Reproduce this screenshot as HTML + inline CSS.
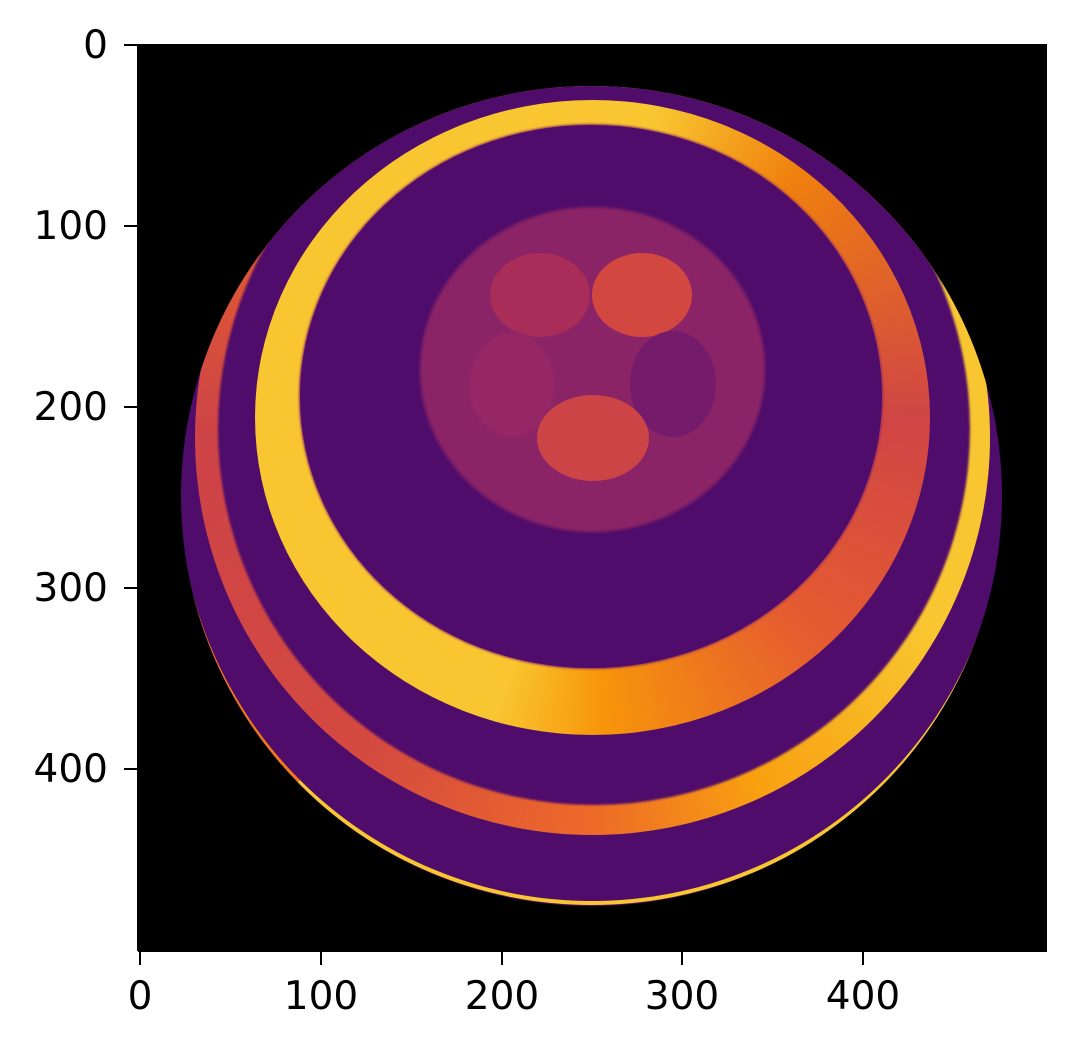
<!DOCTYPE html>
<html><head><meta charset="utf-8"><style>
body{margin:0;background:#fff;width:1074px;height:1049px;position:relative;overflow:hidden;font-family:"DejaVu Sans","Liberation Sans",sans-serif}
.ab{position:absolute}
.el{position:absolute;border-radius:50%}
.tl{position:absolute;font-size:39px;line-height:39px;color:#000;white-space:nowrap}
</style></head><body>
<div class="ab" style="left:138px;top:44px;width:909px;height:907px;background:#000;overflow:hidden">
  <div class="el" style="left:43px;top:42px;width:821px;height:820px;background:#4f0c6b;overflow:hidden">
    <div class="el" style="left:-6px;top:-15px;width:834px;height:834px;box-sizing:border-box;border:4px solid #f8c630;border-top-color:#f07818;border-left-color:#f07818"></div>
    <div class="el" style="left:14px;top:-46px;width:795px;height:795px;background:conic-gradient(#f6b020 0deg,#f8c630 30deg,#f8c630 120deg,#f8a010 155deg,#ee6a28 180deg,#d44a40 215deg,#cd4347 270deg,#e05a30 300deg,#f07818 330deg,#f6b020 360deg)"></div>
    <div class="el" style="left:37px;top:-33px;width:752px;height:752px;background:#4f0c6b;filter:blur(1px)"></div>
  </div>
  <div class="el" style="left:117px;top:56px;width:675px;height:635px;background:conic-gradient(#f8c630 0deg,#f8c630 12deg,#f0800e 40deg,#d04545 90deg,#e55c30 135deg,#f7950a 178deg,#f8c630 198deg,#f8c630 360deg)"></div>
  <div class="el" style="left:162px;top:81px;width:582px;height:543px;background:#4f0c6b;box-shadow:0 0 2px 1px #8a2a60"></div>
  <div class="el" style="left:282px;top:163px;width:345px;height:325px;background:#8b2466;filter:blur(1.5px)"></div>
  <div class="el" style="left:352px;top:209px;width:100px;height:84px;background:#a82d58"></div>
  <div class="el" style="left:454px;top:209px;width:100px;height:84px;background:#d24840"></div>
  <div class="el" style="left:331px;top:289px;width:86px;height:104px;background:#952766;filter:blur(1px)"></div>
  <div class="el" style="left:492px;top:287px;width:86px;height:106px;background:#751b6c"></div>
  <div class="el" style="left:399px;top:351px;width:112px;height:86px;background:#cd4446"></div>
</div>
<svg class="ab" style="left:0;top:0" width="1074" height="1049">
  <g stroke="#000" stroke-width="2">
    <line x1="138" y1="951" x2="138" y2="44"/>
    <line x1="138" y1="951" x2="1047" y2="951"/>
    <line x1="140" y1="951" x2="140" y2="965"/>
    <line x1="321" y1="951" x2="321" y2="965"/>
    <line x1="502" y1="951" x2="502" y2="965"/>
    <line x1="682" y1="951" x2="682" y2="965"/>
    <line x1="863" y1="951" x2="863" y2="965"/>
    <line x1="124" y1="45" x2="138" y2="45"/>
    <line x1="124" y1="226" x2="138" y2="226"/>
    <line x1="124" y1="407" x2="138" y2="407"/>
    <line x1="124" y1="588" x2="138" y2="588"/>
    <line x1="124" y1="769" x2="138" y2="769"/>
  </g>
</svg>
<div class="tl" style="left:100px;top:977px;width:80px;text-align:center">0</div>
<div class="tl" style="left:271px;top:977px;width:100px;text-align:center">100</div>
<div class="tl" style="left:452px;top:977px;width:100px;text-align:center">200</div>
<div class="tl" style="left:632px;top:977px;width:100px;text-align:center">300</div>
<div class="tl" style="left:813px;top:977px;width:100px;text-align:center">400</div>
<div class="tl" style="left:8px;top:26px;width:100px;text-align:right">0</div>
<div class="tl" style="left:8px;top:207px;width:100px;text-align:right">100</div>
<div class="tl" style="left:8px;top:388px;width:100px;text-align:right">200</div>
<div class="tl" style="left:8px;top:569px;width:100px;text-align:right">300</div>
<div class="tl" style="left:8px;top:750px;width:100px;text-align:right">400</div>
</body></html>
